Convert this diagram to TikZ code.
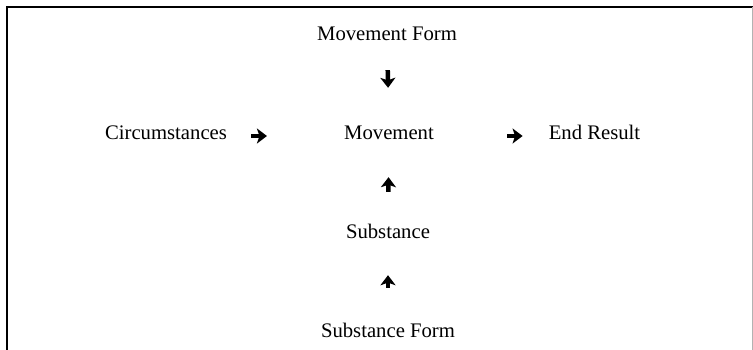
\documentclass[tikz,border=0pt]{standalone}
\usepackage{fontspec}
\setmainfont{Liberation Serif}
\usetikzlibrary{positioning,arrows.meta}

\tikzset{
    lbl/.style={inner sep=0pt, text height=14pt, text depth=0pt, font=\fontsize{20.7}{25}\selectfont},
    arr/.style={line width=4.5pt, -{Stealth[length=10pt,width=15pt,inset=2.5pt]}}
}

\begin{document}
\begin{tikzpicture}[x=1pt,y=-1pt]
    \useasboundingbox (0,0) rectangle (753,350);
    % Frame
    \draw[line width=1.8pt] (7,350) -- (7,7) -- (753,7);
    \draw[gray!60, line width=0.6pt] (752.5,7) -- (752.5,350);

    % Labels
    \node[lbl] (mf) at (387,34) {Movement Form};
    \node[lbl] (circ) at (166,133) {Circumstances};
    \node[lbl] (mov) at (389,133) {Movement};
    \node[lbl] (end) at (594.5,133) {End Result};
    \node[lbl] (sub) at (388,231) {Substance};
    \node[lbl] (sf) at (388,330) {Substance Form};

    % Arrows
    \draw[arr, shorten <=29pt, shorten >=38pt] (mf) -- (mov);
    \draw[arr, shorten <=24pt, shorten >=77pt] ([yshift=-3pt]circ.east) -- ([yshift=-3pt]mov.west);
    \draw[arr, shorten <=73pt, shorten >=26pt] ([yshift=-3pt]mov.east) -- ([yshift=-3pt]end.west);
    \draw[arr, shorten <=32pt, shorten >=37pt] (sub) -- (mov);
    \draw[arr, shorten <=35pt, shorten >=37pt] (sf) -- (sub);
\end{tikzpicture}
\end{document}
